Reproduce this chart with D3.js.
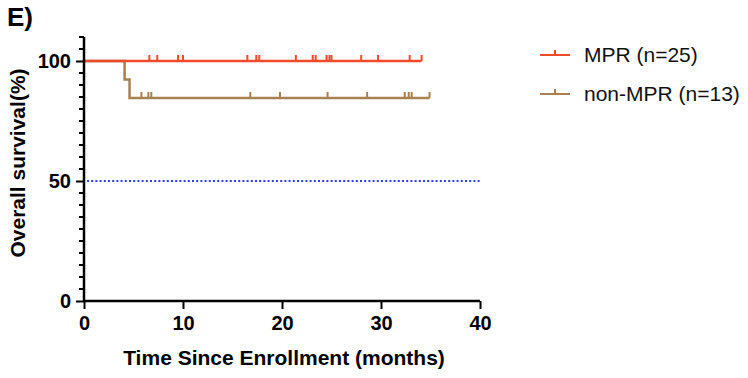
<!DOCTYPE html>
<html>
<head>
<meta charset="utf-8">
<script src="https://cdn.jsdelivr.net/npm/d3@7"></script>
<style>
  body { margin: 0; background: white; }
  text { font-family: "Liberation Sans", Arial, sans-serif; }
</style>
</head>
<body>
<div id="container"></div>
<script>
let w = 748;
let h = 378;

// survival steps: [time, percent]
let mprSteps = [[0, 100], [34.1, 100]];
let nonMprSteps = [[0, 100], [4.1, 92.3], [4.6, 84.6], [34.9, 84.6]];

// censored times (months)
let mprCensored = [6.6, 7.4, 9.5, 10.0, 16.5, 17.4, 17.7, 21.4, 23.1, 23.4, 24.5, 24.8, 25.0, 28.0, 29.7, 32.9, 34.1];
let nonMprCensored = [5.8, 6.5, 6.8, 16.8, 19.8, 24.6, 28.6, 32.4, 32.8, 33.1, 34.9];

let xTicks = [0, 10, 20, 30, 40];
let yTicks = [0, 50, 100];
let medianLine = 50;

let series = [
  {name: "MPR (n=25)", steps: mprSteps, censored: mprCensored, color: "#ef4a2b"},
  {name: "non-MPR (n=13)", steps: nonMprSteps, censored: nonMprCensored, color: "#a88150"}
];

let viz = d3.select("#container")
  .append("svg")
    .attr("width", w)
    .attr("height", h)
    .style("background-color", "white");

let xScale = d3.scaleLinear().domain([0, 40]).range([84, 480]);
let yScale = d3.scaleLinear().domain([0, 100]).range([301, 61]);

// median dotted line
viz.append("line")
  .attr("x1", xScale(0) + 3)
  .attr("x2", xScale(40))
  .attr("y1", yScale(medianLine))
  .attr("y2", yScale(medianLine))
  .attr("stroke", "#2f3fe6")
  .attr("stroke-width", 2)
  .attr("stroke-dasharray", "2,2.2");

// survival curves
let stepLine = d3.line()
  .x(d => xScale(d[0]))
  .y(d => yScale(d[1]))
  .curve(d3.curveStepAfter);

function levelAt(steps, t){
  let v = steps[0][1];
  steps.forEach(s => { if (s[0] <= t) v = s[1]; });
  return v;
}

series.slice().reverse().forEach(s => {
  viz.append("path")
    .attr("d", stepLine(s.steps))
    .attr("fill", "none")
    .attr("stroke", s.color)
    .attr("stroke-width", 2.5);

  viz.selectAll(null).data(s.censored).enter()
    .append("line")
      .attr("x1", d => xScale(d))
      .attr("x2", d => xScale(d))
      .attr("y1", d => yScale(levelAt(s.steps, d)))
      .attr("y2", d => yScale(levelAt(s.steps, d)) - 6)
      .attr("stroke", s.color)
      .attr("stroke-width", 2);
});

// x axis
let xAxis = viz.append("g")
  .attr("transform", "translate(0," + yScale(0) + ")")
  .call(d3.axisBottom(xScale).tickValues(xTicks).tickSize(8).tickPadding(7));

// y axis
let yAxis = viz.append("g")
  .attr("transform", "translate(" + xScale(0) + ",0)")
  .call(d3.axisLeft(d3.scaleLinear().domain([0, 110]).range([yScale(0), yScale(110)]))
    .tickValues(yTicks).tickSize(8).tickPadding(5));

// minor y ticks
let minorTicks = d3.range(5, 111, 5).filter(v => yTicks.indexOf(v) < 0);
viz.selectAll(".minor").data(minorTicks).enter()
  .append("line")
    .attr("x1", xScale(0) - 5)
    .attr("x2", xScale(0))
    .attr("y1", d => yScale(d))
    .attr("y2", d => yScale(d))
    .attr("stroke", "black")
    .attr("stroke-width", 2);

[xAxis, yAxis].forEach(a => {
  a.select(".domain").attr("stroke-width", 2.5);
  a.selectAll(".tick line").attr("stroke-width", 2);
  a.selectAll("text")
    .attr("font-size", 20)
    .attr("font-weight", "bold")
    .attr("fill", "black")
    .style("font-family", "Liberation Sans, Arial, sans-serif");
});
yAxis.select(".domain").attr("d", "M0," + yScale(0) + "V" + yScale(110));
xAxis.select(".domain").attr("d", "M" + xScale(0) + ",0H" + xScale(40));

// axis titles
viz.append("text")
  .attr("x", 284)
  .attr("y", 365)
  .attr("text-anchor", "middle")
  .attr("font-size", 21)
  .attr("font-weight", "bold")
  .text("Time Since Enrollment (months)");

viz.append("text")
  .attr("transform", "translate(25,163) rotate(-90)")
  .attr("text-anchor", "middle")
  .attr("font-size", 21)
  .attr("font-weight", "bold")
  .text("Overall survival(%)");

viz.append("text")
  .attr("x", 7)
  .attr("y", 26)
  .attr("font-size", 26)
  .attr("font-weight", "bold")
  .text("E)");

// legend
let legend = viz.selectAll(".legend").data(series).enter()
  .append("g")
  .attr("transform", (d, i) => "translate(540," + (55 + i * 39) + ")");

legend.append("line")
  .attr("x1", 0).attr("x2", 30).attr("y1", 0).attr("y2", 0)
  .attr("stroke", d => d.color).attr("stroke-width", 2);
legend.append("line")
  .attr("x1", 15).attr("x2", 15).attr("y1", 0).attr("y2", -5)
  .attr("stroke", d => d.color).attr("stroke-width", 2);
legend.append("text")
  .attr("x", 44)
  .attr("y", 7)
  .attr("font-size", 21)
  .attr("fill", "#111")
  .text(d => d.name);
</script>
</body>
</html>
